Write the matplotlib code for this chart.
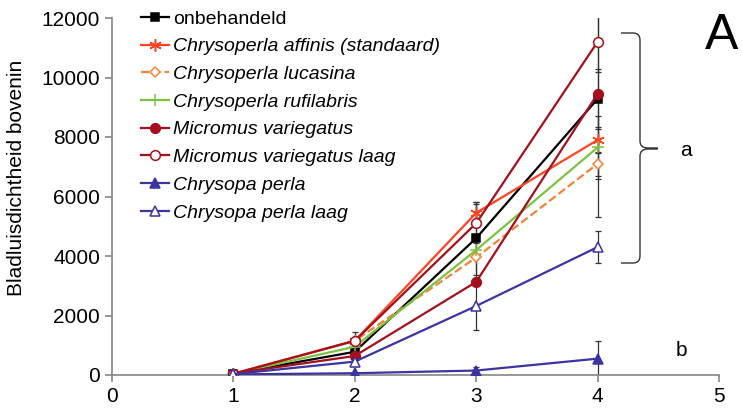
import matplotlib
matplotlib.use("Agg")
import matplotlib.pyplot as plt
from matplotlib.path import Path
from matplotlib.patches import PathPatch
import numpy as np

plt.rcParams["font.family"] = ["Liberation Sans", "DejaVu Sans"]

# data
weeks = [1, 2, 3, 4]
labels = [
    "onbehandeld",
    "Chrysoperla affinis (standaard)",
    "Chrysoperla lucasina",
    "Chrysoperla rufilabris",
    "Micromus variegatus",
    "Micromus variegatus laag",
    "Chrysopa perla",
    "Chrysopa perla laag",
]
onbehandeld = [50, 780, 4600, 9280]
affinis = [40, 1150, 5450, 7900]
lucasina = [50, 1150, 3950, 7100]
rufilabris = [45, 950, 4200, 7650]
micromus = [50, 640, 3130, 9450]
micromus_laag = [40, 1150, 5100, 11200]
perla = [20, 60, 150, 550]
perla_laag = [30, 450, 2320, 4300]

err_onbehandeld = [0, 150, 1230, 1000]
err_affinis = [0, 0, 380, 450]
err_lucasina = [0, 300, 0, 400]
err_rufilabris = [0, 0, 0, 1060]
err_micromus = [0, 0, 1620, 4150]
err_micromus_laag = [0, 0, 650, 1000]
err_perla = [0, 0, 120, 590]
err_perla_laag = [0, 150, 0, 550]

series = [onbehandeld, affinis, lucasina, rufilabris, micromus, micromus_laag, perla, perla_laag]
errors = [err_onbehandeld, err_affinis, err_lucasina, err_rufilabris,
          err_micromus, err_micromus_laag, err_perla, err_perla_laag]

darkred = "#A50F1E"
indigo = "#3C34A0"
styles = [
    dict(color="black", marker="s", ls="-", mfc="black", ms=6),
    dict(color="#FF4422", marker=(6, 2, 0), ls="-", mfc="#FF4422", ms=9),
    dict(color="#F58236", marker="D", ls="--", mfc="white", ms=5),
    dict(color="#7CC242", marker="+", ls="-", mfc="#7CC242", ms=9),
    dict(color=darkred, marker="o", ls="-", mfc=darkred, ms=7),
    dict(color=darkred, marker="o", ls="-", mfc="white", ms=7),
    dict(color=indigo, marker="^", ls="-", mfc=indigo, ms=7),
    dict(color=indigo, marker="^", ls="-", mfc="white", ms=7),
]

fig = plt.figure(figsize=(7.42, 4.16), dpi=100)
ax = fig.add_axes([112 / 742, 1 - 375 / 416, (719 - 112) / 742, (375 - 18) / 416])

handles = []
for vals, err, st in zip(series, errors, styles):
    e = np.array(err, dtype=float)
    mask = e > 0
    x = np.array(weeks)[mask]
    y = np.array(vals)[mask]
    ax.errorbar(x, y, yerr=e[mask], fmt="none", ecolor="#333333",
                elinewidth=0.9, capsize=2.2, capthick=0.9, zorder=1)
    h, = ax.plot(weeks, vals, color=st["color"], ls=st["ls"], lw=1.6,
                 marker=st["marker"], ms=st["ms"], mfc=st["mfc"],
                 mec=st["color"], mew=1.1, zorder=3)
    handles.append(h)

ax.set_xlim(0, 5)
ax.set_ylim(0, 12000)
ax.set_xticks([0, 1, 2, 3, 4, 5])
ax.set_yticks(range(0, 12001, 2000))
for s in ["top", "right"]:
    ax.spines[s].set_visible(False)
for s in ["left", "bottom"]:
    ax.spines[s].set_color("#868686")
    ax.spines[s].set_linewidth(1.2)
ax.tick_params(axis="both", colors="#868686", labelcolor="black",
               labelsize=15, length=5, width=1.2)
ax.set_ylabel("Bladluisdichtheid bovenin", fontsize=15)
ax.yaxis.set_label_coords(-(112 - 26) / 607, (375 - 178) / 357)

leg = fig.legend(handles, labels, loc="upper left",
                 bbox_to_anchor=(141 / 742, 1 - 10 / 416), frameon=False,
                 fontsize=14, handlelength=1.45, handletextpad=0.2,
                 labelspacing=0.52, borderaxespad=0, borderpad=0)
for t in leg.get_texts()[1:]:
    t.set_style("italic")

# brace for group "a"
def fp(px, py):
    return (px / 742, 1 - py / 416)

verts = [fp(621, 33), fp(633, 33), fp(640, 33), fp(640, 40), fp(640, 141),
         fp(640, 148), fp(648, 148), fp(658, 148),
         fp(658, 149), fp(648, 149), fp(640, 149), fp(640, 156), fp(640, 256),
         fp(640, 263), fp(633, 263), fp(621, 263)]
codes = [Path.MOVETO, Path.LINETO, Path.CURVE3, Path.CURVE3, Path.LINETO,
         Path.CURVE3, Path.CURVE3, Path.LINETO,
         Path.MOVETO, Path.LINETO, Path.CURVE3, Path.CURVE3, Path.LINETO,
         Path.CURVE3, Path.CURVE3, Path.LINETO]
fig.patches.append(PathPatch(Path(verts, codes), fill=False, lw=1.0,
                             edgecolor="#333333", transform=fig.transFigure))

fig.text(*fp(686, 151), "a", fontsize=15, ha="center", va="center")
fig.text(*fp(681, 350), "b", fontsize=15, ha="center", va="center")
fig.text(*fp(722, 36), "A", fontsize=36, ha="center", va="center")

fig.savefig("out.png", dpi=100)
